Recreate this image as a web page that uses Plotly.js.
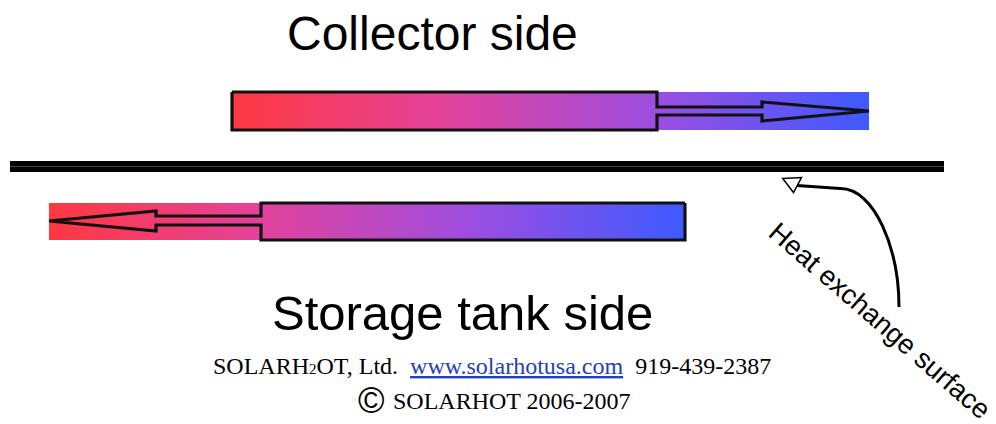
<!DOCTYPE html>
<html>
<head>
<meta charset="utf-8">
<script src="https://cdn.plot.ly/plotly-3.0.1.min.js"></script>
<style>html,body{margin:0;padding:0;background:#fff;}#chart{width:996px;height:424px;}</style>
</head>
<body>
<div id="chart"></div>
<script>
// ---- diagram data (pixel coordinates, y downward) ----
const gradientStops = [
  [0.00, 'rgb(255,56,64)'],
  [0.33, 'rgb(228,66,155)'],
  [0.67, 'rgb(155,78,225)'],
  [1.00, 'rgb(62,90,255)']
];

// Collector side flow (left -> right)
const topFillX = [232, 869, 869, 232, 232];
const topFillY = [92, 92, 130, 130, 92];
const topOutlineX = [232, 657, 657, 762, 762, 869, 762, 762, 657, 657, 232, 232];
const topOutlineY = [92, 92, 107, 107, 102, 111, 121, 115, 115, 130, 130, 92];

// Storage tank side flow (right -> left)
const botFillX = [49, 685, 685, 49, 49];
const botFillY = [203, 203, 240, 240, 203];
const botOutlineX = [685, 261, 261, 156, 156, 49, 156, 156, 261, 261, 685, 685];
const botOutlineY = [203, 203, 216, 216, 211, 221, 231, 225, 225, 240, 240, 203];

// Heat exchange surface (separator)
const wallX = [10, 944];
const wallY = [166.5, 166.5];

// Curved pointer arrow
const curveX = [899, 899, 875, 840, 797];
const curveY = [307, 250, 188, 188.5, 185.5];
const headX = [782.7, 801.5, 793.5];
const headY = [178.5, 177.5, 192.5];

// Texts
const labels = {
  collector: 'Collector side',
  storage: 'Storage tank side',
  surface: 'Heat exchange surface',
  company: 'SOLARH<span style="font-size:15px">2</span>OT, Ltd.\u00a0\u00a0<span style="color:#2340c0"><u>www.solarhotusa.com</u></span>\u00a0\u00a0919-439-2387',
  copyMark: '\u00a9',
  copyright: 'SOLARHOT 2006-2007'
};

// ---- traces ----
const traces = [
  {x: topFillX, y: topFillY, type: 'scatter', mode: 'lines', fill: 'toself',
   line: {width: 0, color: 'rgba(0,0,0,0)'},
   fillgradient: {type: 'horizontal', colorscale: gradientStops},
   hoverinfo: 'skip'},
  {x: botFillX, y: botFillY, type: 'scatter', mode: 'lines', fill: 'toself',
   line: {width: 0, color: 'rgba(0,0,0,0)'},
   fillgradient: {type: 'horizontal', colorscale: gradientStops},
   hoverinfo: 'skip'},
  {x: topOutlineX, y: topOutlineY, type: 'scatter', mode: 'lines',
   line: {width: 3.2, color: '#111'}, hoverinfo: 'skip'},
  {x: botOutlineX, y: botOutlineY, type: 'scatter', mode: 'lines',
   line: {width: 3.2, color: '#111'}, hoverinfo: 'skip'}
];

const curvePath = 'M ' + curveX[0] + ' ' + curveY[0] +
  ' C ' + curveX[1] + ' ' + curveY[1] + ', ' + curveX[2] + ' ' + curveY[2] + ', ' + curveX[3] + ' ' + curveY[3] +
  ' L ' + curveX[4] + ' ' + curveY[4];
const headPath = 'M ' + headX[0] + ' ' + headY[0] + ' L ' + headX[1] + ' ' + headY[1] +
  ' L ' + headX[2] + ' ' + headY[2] + ' Z';

const shapes = [
  {type: 'line', xref: 'x', yref: 'y', x0: wallX[0], x1: wallX[1], y0: wallY[0], y1: wallY[1],
   line: {color: '#000', width: 11}},
  {type: 'line', xref: 'x', yref: 'y', x0: wallX[0], x1: wallX[1], y0: wallY[0], y1: wallY[1],
   line: {color: '#444', width: 1}},
  {type: 'path', xref: 'x', yref: 'y', path: curvePath, line: {color: '#000', width: 3}},
  {type: 'path', xref: 'x', yref: 'y', path: headPath, fillcolor: '#fff', line: {color: '#000', width: 1.5}}
];

const sans = 'Liberation Sans, Arial, sans-serif';
const serif = 'Liberation Serif, Times New Roman, serif';

const annotations = [
  {x: 432, y: 33, xref: 'x', yref: 'y', text: labels.collector, showarrow: false,
   font: {family: sans, size: 48, color: '#000'}},
  {x: 462, y: 313, xref: 'x', yref: 'y', text: labels.storage, showarrow: false,
   font: {family: sans, size: 49, color: '#000'}},
  {x: 880, y: 320, xref: 'x', yref: 'y', text: labels.surface, showarrow: false, textangle: 41,
   font: {family: sans, size: 27.5, color: '#000'}},
  {x: 492, y: 366, xref: 'x', yref: 'y', text: labels.company, showarrow: false,
   font: {family: serif, size: 24, color: '#000'}},
  {x: 371, y: 400, xref: 'x', yref: 'y', text: labels.copyMark, showarrow: false,
   font: {family: sans, size: 36, color: '#000'}},
  {x: 512, y: 401, xref: 'x', yref: 'y', text: labels.copyright, showarrow: false,
   font: {family: serif, size: 24, color: '#000'}}
];

const layout = {
  width: 996, height: 424,
  margin: {l: 0, r: 0, t: 0, b: 0, pad: 0},
  paper_bgcolor: '#fff', plot_bgcolor: '#fff',
  showlegend: false,
  xaxis: {range: [0, 996], visible: false, fixedrange: true},
  yaxis: {range: [424, 0], visible: false, fixedrange: true},
  shapes: shapes,
  annotations: annotations
};

Plotly.newPlot('chart', traces, layout, {displayModeBar: false, staticPlot: true});
</script>
</body>
</html>
